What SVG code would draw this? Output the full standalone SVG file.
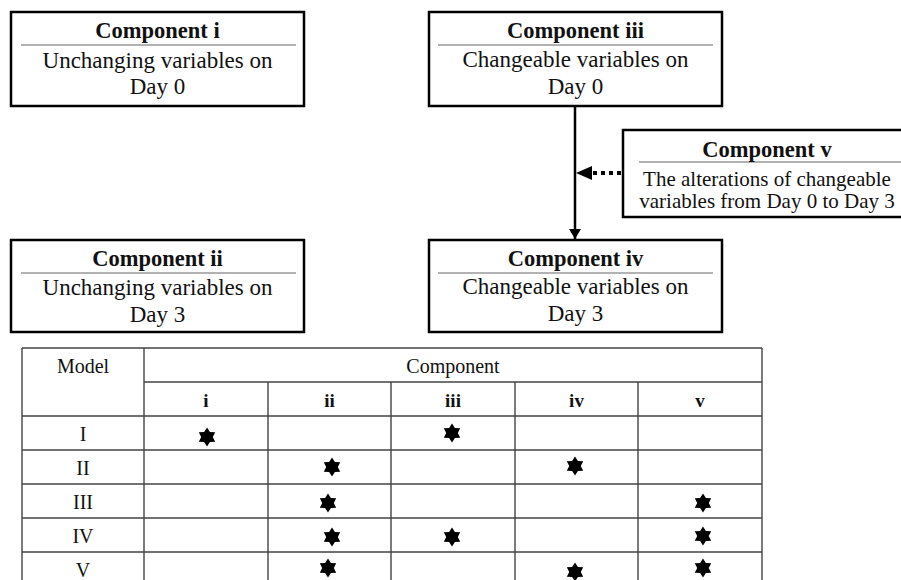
<svg xmlns="http://www.w3.org/2000/svg" width="901" height="580" viewBox="0 0 901 580">
<style>
.box{fill:#fff;stroke:#000;stroke-width:2.5}
.sep{stroke:#666;stroke-width:1.2}
text{font-family:"Times New Roman","Liberation Serif","DejaVu Serif",serif;fill:#111;text-anchor:middle}
.t{font-size:23px}
.tb{font-size:22.5px;font-weight:bold}
.ts{font-size:21px}
.grid{stroke:#444;stroke-width:1.4;fill:none}
.c{font-size:20px}
.cb{font-size:19px;font-weight:bold}
</style>
<defs>
<path id="star" d="M0,-9.5 L2.9,-5 L8.2,-4.75 L5.8,0 L8.2,4.75 L2.9,5 L0,9.5 L-2.9,5 L-8.2,4.75 L-5.8,0 L-8.2,-4.75 L-2.9,-5 Z" fill="#000"/>
<marker id="ah" viewBox="0 0 10 12" refX="10" refY="6" markerWidth="10" markerHeight="12" markerUnits="userSpaceOnUse" orient="auto">
<path d="M0,0 L10,6 L0,12 Z" fill="#000"/>
</marker>
</defs>
<g id="connectors">
<line x1="575" y1="106" x2="575" y2="239" stroke="#000" stroke-width="2.5" marker-end="url(#ah)"/>
<line x1="621" y1="173" x2="590" y2="173" stroke="#000" stroke-width="4" stroke-dasharray="4,4"/>
<path d="M576,173 L592,166 L592,180 Z" fill="#000"/>
</g>
<g id="component-i">
<rect class="box" x="11" y="12" width="293" height="94"/>
<line class="sep" x1="21" y1="45" x2="296" y2="45"/>
<text class="tb" x="157.5" y="38">Component i</text>
<text class="t" x="157.5" y="68">Unchanging variables on</text>
<text class="t" x="157.5" y="94">Day 0</text>
</g>
<g id="component-iii">
<rect class="box" x="429" y="12" width="293" height="94"/>
<line class="sep" x1="438" y1="45" x2="713" y2="45"/>
<text class="tb" x="575.5" y="38">Component iii</text>
<text class="t" x="575.5" y="67">Changeable variables on</text>
<text class="t" x="575.5" y="94">Day 0</text>
</g>
<g id="component-v">
<rect class="box" x="623" y="130" width="288" height="87"/>
<line class="sep" x1="639" y1="162" x2="905" y2="162"/>
<text class="tb" x="767" y="157">Component v</text>
<text class="ts" x="767" y="186">The alterations of changeable</text>
<text class="ts" x="767" y="208">variables from Day 0 to Day 3</text>
</g>
<g id="component-ii">
<rect class="box" x="11" y="240" width="293" height="92"/>
<line class="sep" x1="21" y1="273" x2="296" y2="273"/>
<text class="tb" x="157.5" y="266">Component ii</text>
<text class="t" x="157.5" y="295">Unchanging variables on</text>
<text class="t" x="157.5" y="322">Day 3</text>
</g>
<g id="component-iv">
<rect class="box" x="429" y="240" width="293" height="92"/>
<line class="sep" x1="438" y1="273" x2="713" y2="273"/>
<text class="tb" x="575.5" y="266">Component iv</text>
<text class="t" x="575.5" y="294">Changeable variables on</text>
<text class="t" x="575.5" y="321">Day 3</text>
</g>
<g id="table">
<path class="grid" d="M22,348 H762 M144,382 H762 M22,416 H762 M22,450 H762 M22,484 H762 M22,518 H762 M22,552 H762 M22,348 V580 M144,348 V580 M762,348 V580 M268,382 V580 M391,382 V580 M515,382 V580 M638,382 V580"/>
<text class="c" x="83" y="373">Model</text>
<text class="c" x="453" y="373">Component</text>
<text class="cb" x="206" y="407">i</text>
<text class="cb" x="329.5" y="407">ii</text>
<text class="cb" x="453" y="407">iii</text>
<text class="cb" x="576.5" y="407">iv</text>
<text class="cb" x="700" y="407">v</text>
<text class="c" x="83" y="441">I</text>
<text class="c" x="83" y="475">II</text>
<text class="c" x="83" y="509">III</text>
<text class="c" x="83" y="543">IV</text>
<text class="c" x="83" y="577">V</text>
<use href="#star" x="207" y="437"/>
<use href="#star" x="452" y="433"/>
<use href="#star" x="332" y="467"/>
<use href="#star" x="575" y="466"/>
<use href="#star" x="328" y="503"/>
<use href="#star" x="703" y="503"/>
<use href="#star" x="332" y="537"/>
<use href="#star" x="452" y="537"/>
<use href="#star" x="703" y="536"/>
<use href="#star" x="328" y="568"/>
<use href="#star" x="575" y="572"/>
<use href="#star" x="703" y="568"/>
</g>
</svg>
